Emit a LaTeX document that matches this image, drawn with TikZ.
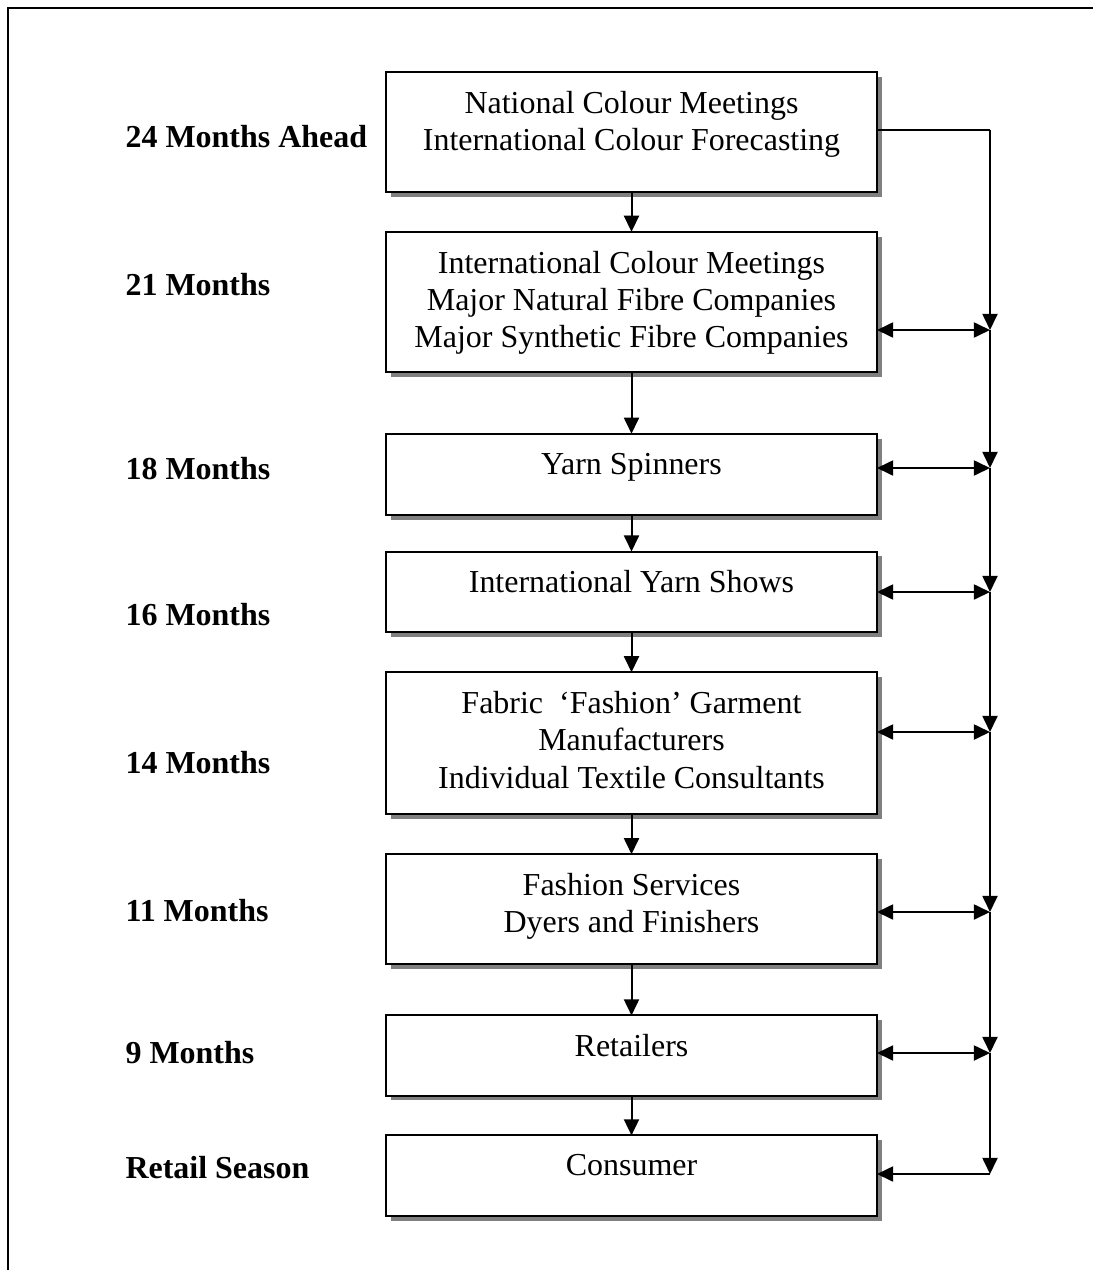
\documentclass[tikz,border=0pt]{standalone}
\usepackage{fontspec}
\setmainfont{Liberation Serif}
\usepackage{tikz}
\usetikzlibrary{positioning,arrows.meta,shadows}

\begin{document}
\begin{tikzpicture}[x=0.366pt, y=-0.366pt,
                    >={Triangle[length=5.9pt,width=5.5pt]},
                    stage/.style={draw, line width=0.73pt, fill=white, minimum width=179.7pt,
                                  inner sep=0pt, outer sep=0pt, anchor=north,
                                  drop shadow={shadow xshift=1.8pt, shadow yshift=-1.8pt,
                                               fill=black!50, opacity=1}},
                    stagetext/.style={align=center, inner sep=0pt,
                                      font=\fontsize{11.7pt}{13.65pt}\selectfont},
                    month/.style={anchor=base west, inner sep=0pt,
                                  font=\fontsize{11.7pt}{13.65pt}\selectfont\bfseries},
                    link/.style={line width=0.73pt}]
\useasboundingbox (0,0) rectangle (1093,1270);
\draw[line width=0.73pt] (8,1270) -- (8,8) -- (1093,8);

\node[stage, minimum height=43.9pt] (colour) at (631.5,72) {};
\node[stage, minimum height=51.2pt, below=14.6pt of colour] (fibre) {};
\node[stage, minimum height=29.6pt, below=22.7pt of fibre] (spin) {};
\node[stage, minimum height=29.6pt, below=13.5pt of spin] (yarnshow) {};
\node[stage, minimum height=52pt, below=14.6pt of yarnshow] (fabric) {};
\node[stage, minimum height=40.3pt, below=14.6pt of fabric] (services) {};
\node[stage, minimum height=29.3pt, below=18.7pt of services] (retail) {};
\node[stage, minimum height=29.6pt, below=14.6pt of retail] (consumer) {};

\node[stagetext, below=6.8pt of colour.north] (colour-t)
  {National Colour Meetings\\International Colour Forecasting};
\node[stagetext, below=6.8pt of fibre.north] (fibre-t)
  {International Colour Meetings\\Major Natural Fibre Companies\\Major Synthetic Fibre Companies};
\node[stagetext, below=6.8pt of spin.north] (spin-t) {Yarn Spinners};
\node[stagetext, below=6.8pt of yarnshow.north] (yarnshow-t) {International Yarn Shows};
\node[stagetext, below=6.8pt of fabric.north] (fabric-t)
  {Fabric\ \ ‘Fashion’ Garment\\Manufacturers\\Individual Textile Consultants};
\node[stagetext, below=6.8pt of services.north] (services-t)
  {Fashion Services\\Dyers and Finishers};
\node[stagetext, below=6.8pt of retail.north] (retail-t) {Retailers};
\node[stagetext, below=6.8pt of consumer.north] (consumer-t) {Consumer};

\node[month] (m24) at (125,147) {24 Months Ahead};
\node[month] (m21) at (125,295) {21 Months};
\node[month] (m18) at (125,479) {18 Months};
\node[month] (m16) at (125,625) {16 Months};
\node[month] (m14) at (125,773) {14 Months};
\node[month] (m11) at (125,921) {11 Months};
\node[month] (m9) at (125,1063) {9 Months};
\node[month] (mrs) at (125,1178) {Retail Season};

\draw[link, ->] (colour) -- (fibre);
\draw[link, ->] (fibre) -- (spin);
\draw[link, ->] (spin) -- (yarnshow);
\draw[link, ->] (yarnshow) -- (fabric);
\draw[link, ->] (fabric) -- (services);
\draw[link, ->] (services) -- (retail);
\draw[link, ->] (retail) -- (consumer);

% feedback bus on the right
\coordinate (bus-top) at (990,130);
\coordinate (bus-fibre) at (990,330);
\coordinate (bus-spin) at (990,468);
\coordinate (bus-yarnshow) at (990,592);
\coordinate (bus-fabric) at (990,732);
\coordinate (bus-services) at (990,912);
\coordinate (bus-retail) at (990,1053);
\coordinate (bus-consumer) at (990,1174);
\draw[link] (colour.east |- bus-top) -- (bus-top);
\draw[link, ->] (bus-top) -- (bus-fibre);
\draw[link, ->] (bus-fibre) -- (bus-spin);
\draw[link, ->] (bus-spin) -- (bus-yarnshow);
\draw[link, ->] (bus-yarnshow) -- (bus-fabric);
\draw[link, ->] (bus-fabric) -- (bus-services);
\draw[link, ->] (bus-services) -- (bus-retail);
\draw[link, ->] (bus-retail) -- (bus-consumer);
\draw[link, <->] (fibre.east |- bus-fibre) -- (bus-fibre);
\draw[link, <->] (spin.east |- bus-spin) -- (bus-spin);
\draw[link, <->] (yarnshow.east |- bus-yarnshow) -- (bus-yarnshow);
\draw[link, <->] (fabric.east |- bus-fabric) -- (bus-fabric);
\draw[link, <->] (services.east |- bus-services) -- (bus-services);
\draw[link, <->] (retail.east |- bus-retail) -- (bus-retail);
\draw[link, ->] (bus-consumer) -- (consumer.east |- bus-consumer);
\end{tikzpicture}
\end{document}
